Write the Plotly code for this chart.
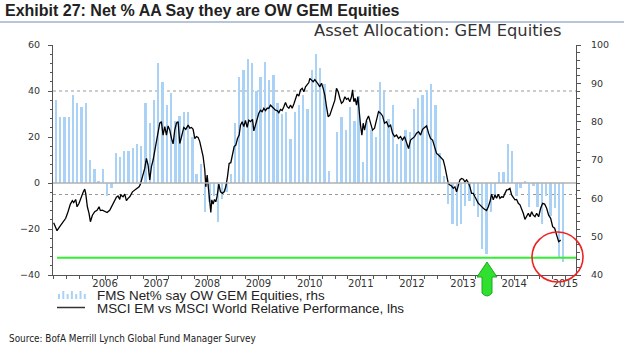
import numpy as np
import plotly.graph_objects as go

# ---------------- data ----------------
# FMS net % say overweight GEM equities, monthly, Jan 2005 .. Dec 2014
fms_net = [
    36.0, 28.9, 28.9, 28.9, 38.1, 35.0, 33.0, 35.0, 10.0, 6.0,
    1.0, 6.0, -5.8, -2.0, 13.0, 11.1, 13.9, 13.9, 15.2, 17.1,
    16.1, 35.0, 26.0, 36.0, 52.1, 44.0, 34.0, 39.1, 27.1, 29.0,
    31.0, 31.0, 19.8, 4.1, 8.1, -12.7, -8.4, -5.5, -16.8, -6.9,
    -4.1, 4.1, 26.0, 45.9, 49.1, 53.8, 52.0, 40.1, 45.9, 52.8,
    45.0, 46.9, 35.0, 30.0, 31.0, 19.1, 31.0, 34.0, 38.1, 32.1,
    49.1, 56.0, 49.8, 43.0, 5.1, 0.0, 22.0, 28.9, 23.2, 33.0,
    27.1, 38.0, 9.0, 27.1, 23.2, 20.0, 44.0, 39.8, 27.8, 34.0,
    17.1, 19.1, 23.2, 22.0, 32.1, 37.0, 38.1, 39.8, 43.0, 34.0,
    13.0, 3.2, -9.1, -17.8, -18.8, -17.9, -9.8, -7.7, -9.8, -14.9,
    -28.9, -30.8, -12.7, -6.7, 4.9, 4.9, 16.9, 13.9, -5.5, -2.0,
    0.9, -10.6, -1.2, -10.6, -17.8, -5.5, -14.2, -11.0, -32.3, -34.2,
]

# MSCI EM vs MSCI World relative performance (right scale)
# time given in months after mid-January 2005
line_month = [
    -0.54, 0.24, 0.87, 1.65, 2.28, 2.82, 3.37, 3.84, 4.15, 4.62, 4.94, 5.41, 5.95, 6.34,
    6.74, 6.97, 7.36, 7.75, 8.07, 8.54, 9.08, 9.63, 10.1, 10.41, 10.88, 11.43, 11.98, 12.6,
    13.23, 13.78, 14.17, 14.56, 14.95, 15.19, 15.73, 16.13, 16.52, 16.91, 17.3, 17.93, 18.47,
    19.02, 19.49, 19.8, 20.27, 20.82, 21.21, 21.6, 22.0, 22.39, 22.78, 23.17, 23.56, 23.95,
    24.34, 24.73, 25.12, 25.52, 25.91, 26.3, 26.69, 27.08, 27.47, 27.86, 28.25, 28.65, 29.04,
    29.43, 29.98, 30.45, 31.0, 31.39, 31.78, 32.17, 32.56, 32.95, 33.34, 33.73, 34.13, 34.52,
    34.91, 35.14, 35.46, 35.77, 36.08, 36.32, 36.55, 36.86, 37.18, 37.49, 37.8, 38.2, 38.59,
    39.06, 39.45, 39.84, 40.23, 40.62, 41.01, 41.4, 41.8, 42.19, 42.58, 42.97, 43.28, 43.67,
    44.06, 44.45, 44.85, 45.24, 45.63, 46.1, 46.41, 46.8, 47.19, 47.58, 47.98, 48.37, 48.76,
    49.15, 49.54, 49.93, 50.32, 50.71, 51.11, 51.5, 51.89, 52.28, 52.67, 53.06, 53.45, 53.84,
    54.24, 54.63, 55.02, 55.41, 55.8, 56.19, 56.58, 56.97, 57.37, 57.76, 58.15, 58.54, 58.93,
    59.32, 59.55, 59.94, 60.33, 60.72, 61.11, 61.5, 61.9, 62.29, 62.68, 63.07, 63.46, 63.85,
    64.24, 64.64, 65.03, 65.42, 65.81, 66.2, 66.59, 66.98, 67.37, 67.77, 68.16, 68.55, 68.94,
    69.33, 69.57, 69.88, 70.19, 70.5, 70.82, 71.13, 71.44, 71.76, 72.07, 72.38, 72.85, 73.32,
    73.79, 74.26, 74.73, 75.2, 75.67, 76.14, 76.61, 77.08, 77.55, 78.02, 78.49, 78.96, 79.43,
    79.9, 80.36, 80.83, 81.3, 81.77, 82.24, 82.71, 83.18, 83.65, 84.12, 84.59, 85.06, 85.53,
    86.0, 86.47, 86.94, 87.41, 87.88, 88.35, 88.82, 89.28, 89.75, 90.07, 90.46, 90.85, 91.24,
    91.63, 92.03, 92.42, 92.81, 93.2, 93.59, 93.98, 94.37, 94.76, 95.16, 95.55, 95.94, 96.33,
    96.72, 97.11, 97.5, 97.9, 98.29, 98.68, 99.07, 99.46, 99.85, 100.24, 100.63, 101.02,
    101.42, 101.81, 102.2, 102.59, 102.98, 103.37, 103.76, 104.15, 104.55, 104.94, 105.33,
    105.72, 106.11, 106.5, 106.89, 107.28, 107.67, 108.07, 108.46, 108.85, 109.24, 109.63,
    110.02, 110.41, 110.81, 111.2, 111.59, 111.98, 112.37, 112.76, 113.23, 113.7, 114.17,
    114.64, 115.11, 115.58, 116.05, 116.52, 116.99, 117.46, 117.93, 118.4,
]
line_value = [
    53.65, 51.56, 52.6, 53.9, 54.8, 56.5, 58.5, 59.4, 58.9, 59.7, 57.8, 58.7, 60.6, 61.5,
    62.4, 61.3, 57.8, 56.1, 53.9, 55.6, 56.5, 56.9, 57.8, 56.8, 56.9, 56.5, 56.3, 56.9,
    58.3, 59.6, 60.3, 60.6, 59.7, 60.9, 60.4, 61.1, 59.4, 60.0, 60.4, 61.7, 62.2,
    62.6, 63.0, 63.7, 65.6, 67.8, 70.4, 68.7, 64.8, 68.3, 70.0, 72.6, 75.2, 77.0,
    79.6, 80.0, 76.5, 78.7, 76.5, 78.9, 77.8, 75.7, 74.2, 77.8, 79.6, 80.0, 74.3,
    76.0, 78.5, 78.0, 79.1, 78.3, 78.5, 78.0, 75.6, 76.1, 75.9, 74.8, 73.0, 70.9,
    67.4, 63.0, 66.1, 63.0, 58.7, 56.3, 59.6, 58.5, 59.7, 59.1, 60.6, 63.7, 61.7,
    61.3, 61.7, 63.0, 65.6, 69.1, 69.3, 71.7, 73.5, 73.9, 75.6, 76.5, 79.1, 80.0,
    78.7, 80.3, 78.5, 80.4, 80.0, 80.6, 77.6, 79.1, 80.9, 82.2, 83.0, 82.6, 83.5,
    82.9, 83.5, 83.5, 84.3, 83.9, 83.5, 83.0, 82.9, 82.3, 83.2, 82.9, 83.9, 85.0,
    83.9, 83.5, 84.3, 83.5, 84.6, 86.1, 87.2, 86.7, 88.3, 88.7, 87.8, 89.1, 89.6,
    90.2, 91.3, 90.9, 90.4, 91.0, 90.2, 89.8, 89.1, 90.0, 88.7, 86.9, 83.9, 81.3,
    81.7, 83.0, 84.8, 85.6, 88.7, 87.8, 86.1, 84.8, 85.2, 86.5, 85.8, 86.1, 85.2,
    86.5, 88.3, 85.2, 86.1, 84.3, 86.5, 82.2, 79.1, 76.5, 79.6, 77.8, 80.4, 81.5,
    79.6, 77.8, 78.3, 80.4, 82.6, 82.2, 81.5, 79.6, 80.0, 78.7, 79.1, 77.0, 76.1,
    76.5, 75.6, 76.1, 75.2, 76.1, 74.8, 73.0, 75.2, 75.6, 76.1, 77.0, 77.4, 76.5,
    78.0, 78.5, 78.9, 77.0, 75.6, 75.2, 73.5, 71.7, 71.3, 70.9, 70.7, 70.0, 68.3,
    66.5, 63.9, 63.5, 63.2, 62.6, 63.0, 61.7, 63.5, 64.8, 65.2, 65.0, 64.3, 64.8,
    64.1, 63.0, 61.3, 61.3, 60.4, 59.4, 58.7, 58.3, 57.8, 57.4, 57.1, 56.8,
    57.8, 59.1, 61.1, 59.6, 60.9, 60.0, 61.1, 60.0, 60.4, 60.3, 61.3,
    62.2, 62.3, 62.6, 60.9, 60.4, 59.6, 59.7, 58.7, 58.3, 57.4, 56.1,
    54.5, 55.2, 56.1, 55.2, 56.5, 55.6, 55.2, 56.1, 55.2, 57.4, 58.7,
    58.5, 57.4, 55.6, 54.8, 52.6, 52.2, 50.4, 48.7, 49.1,
]

year_ticks = [2006, 2007, 2008, 2009, 2010, 2011, 2012, 2013, 2014, 2015]
year_labels = [str(y) for y in year_ticks]
left_ticks = [-40, -20, 0, 20, 40, 60]
right_ticks = [40, 50, 60, 70, 80, 90, 100]
band_upper, band_lower = 40, -5      # dotted reference lines (lhs scale)
record_low = -32.5                   # green line (lhs scale)

legend_bar = "FMS Net% say OW GEM Equities, rhs"
legend_line = "MSCI EM vs MSCI World Relative Performance, lhs"

# ---------------- figure ----------------
W, H = 624, 358
ML, MR, MT, MB = 53, 48, 45, 83
PW, PH = W - ML - MR, H - MT - MB


def px(x):
    return (x - ML) / PW


def py(y):
    return 1 - (y - MT) / PH


bar_t = 2005 + (np.arange(len(fms_net)) + 0.5) / 12
line_t = 2005 + (np.array(line_month) + 0.5) / 12

BAR_C = "#aad2f7"
AX_C = "#555555"
TXT = "DejaVu Sans, Verdana, sans-serif"
ARIAL = "Liberation Sans, Arial, sans-serif"
NARROW = "Liberation Sans Narrow, Arial Narrow, sans-serif"
COND = "DejaVu Sans Condensed, sans-serif"

fig = go.Figure()
fig.add_trace(go.Bar(x=bar_t, y=fms_net, width=0.55 / 12, marker_color=BAR_C,
                     marker_line_width=0, yaxis="y", showlegend=False))
fig.add_trace(go.Scatter(x=line_t, y=line_value, mode="lines", yaxis="y2",
                         line=dict(color="#000000", width=1.3), showlegend=False))

shapes = []
for v in (band_upper, band_lower):
    shapes.append(dict(type="line", xref="paper", yref="y", x0=0, x1=1, y0=v, y1=v,
                       line=dict(color="#999999", width=1, dash="dot"), layer="below"))
shapes.append(dict(type="line", xref="paper", yref="y", x0=0, x1=1, y0=0, y1=0,
                   line=dict(color="#b0b0b0", width=1.6), layer="above"))
shapes.append(dict(type="line", xref="paper", yref="y", x0=px(57), x1=1, y0=record_low,
                   y1=record_low, line=dict(color="#33ee33", width=2.2), layer="above"))

# red circle around latest readings
shapes.append(dict(type="circle", xref="paper", yref="paper", x0=px(532), x1=px(583),
                   y0=py(282), y1=py(232), line=dict(color="#ee2222", width=1.6)))

# green arrow pointing at 2013 low
ax_, tip, hb, bot = 487, 262, 277, 293
path = (f"M {px(ax_)},{py(tip)} L {px(ax_+10)},{py(hb)} L {px(ax_+5)},{py(hb)} "
        f"L {px(ax_+5)},{py(bot)} Q {px(ax_)},{py(bot+6)} {px(ax_-5)},{py(bot)} "
        f"L {px(ax_-5)},{py(hb)} L {px(ax_-10)},{py(hb)} Z")
shapes.append(dict(type="path", xref="paper", yref="paper", path=path,
                   fillcolor="#2fe02f", line=dict(color="#1fa81f", width=1)))

# title rule
shapes.append(dict(type="line", xref="paper", yref="paper", x0=px(0), x1=px(624),
                   y0=py(22), y1=py(22), line=dict(color="#9fb2d0", width=1.5)))

# legend icons
icon_h = [5, 8, 5, 8, 5, 8, 5]
for i, h in enumerate(icon_h):
    x0 = 58 + i * 4.3
    shapes.append(dict(type="rect", xref="paper", yref="paper", x0=px(x0), x1=px(x0 + 2),
                       y0=py(299), y1=py(299 - h), fillcolor=BAR_C, line=dict(width=0)))
shapes.append(dict(type="line", xref="paper", yref="paper", x0=px(57), x1=px(85),
                   y0=py(307.5), y1=py(307.5), line=dict(color="#333333", width=1.5)))

annotations = [
    dict(text="<b>Exhibit 27: Net % AA Say they are OW GEM Equities</b>", x=px(3), y=py(11),
         xref="paper", yref="paper", xanchor="left", yanchor="middle", showarrow=False,
         font=dict(family=NARROW, size=16, color="#222222")),
    dict(text="Asset Allocation: GEM Equities", x=px(564), y=py(31), xref="paper",
         yref="paper", xanchor="right", yanchor="middle", showarrow=False,
         font=dict(family=TXT, size=16.3, color="#333333")),
    dict(text=legend_bar, x=px(95), y=py(295), xref="paper", yref="paper",
         xanchor="left", yanchor="middle", showarrow=False,
         font=dict(family=ARIAL, size=13.4, color="#222222")),
    dict(text=legend_line, x=px(95), y=py(308), xref="paper", yref="paper",
         xanchor="left", yanchor="middle", showarrow=False,
         font=dict(family=ARIAL, size=13.4, color="#222222")),
    dict(text="Source: BofA Merrill Lynch Global Fund Manager Survey", x=px(7), y=py(338),
         xref="paper", yref="paper", xanchor="left", yanchor="middle", showarrow=False,
         font=dict(family=COND, size=9.9, color="#222222")),
]

fig.update_layout(
    width=W, height=H, autosize=False,
    margin=dict(l=ML, r=MR, t=MT, b=MB, pad=0),
    paper_bgcolor="white", plot_bgcolor="white",
    showlegend=False, bargap=0,
    shapes=shapes, annotations=annotations,
    xaxis=dict(range=[2004.983, 2015.208], tickmode="array", tickvals=year_ticks,
               ticktext=year_labels, ticks="outside", ticklen=4, tickcolor=AX_C,
               showline=True, linecolor=AX_C, linewidth=1, showgrid=False, zeroline=False,
               automargin=False, ticklabelstandoff=-5,
               tickfont=dict(family=TXT, size=10, color="#333333"),
               minor=dict(tickmode="linear", tick0=2005, dtick=0.25, ticks="outside",
                          ticklen=3, tickcolor=AX_C, showgrid=False)),
    yaxis=dict(range=[-40, 60], tickmode="array", tickvals=left_ticks, ticks="outside",
               ticklen=4, tickcolor=AX_C, showline=True, linecolor=AX_C, linewidth=1,
               showgrid=False, zeroline=False, ticklabelstandoff=6, automargin=False,
               tickfont=dict(family=TXT, size=9.5, color="#333333"),
               minor=dict(tickmode="linear", tick0=0, dtick=4, ticks="outside",
                          ticklen=2.5, tickcolor=AX_C, showgrid=False)),
    yaxis2=dict(range=[40, 100], overlaying="y", side="right", tickmode="array",
                tickvals=right_ticks, ticks="outside", ticklen=4, tickcolor=AX_C,
                showline=True, linecolor=AX_C, linewidth=1, showgrid=False,
                zeroline=False, ticklabelstandoff=8, automargin=False,
                tickfont=dict(family=TXT, size=9.5, color="#333333"),
                minor=dict(tickmode="linear", tick0=40, dtick=2, ticks="outside",
                           ticklen=2.5, tickcolor=AX_C, showgrid=False)),
)

fig.write_html("out.html", config={"displayModeBar": False},
               post_script="document.body.style.margin='0';")
